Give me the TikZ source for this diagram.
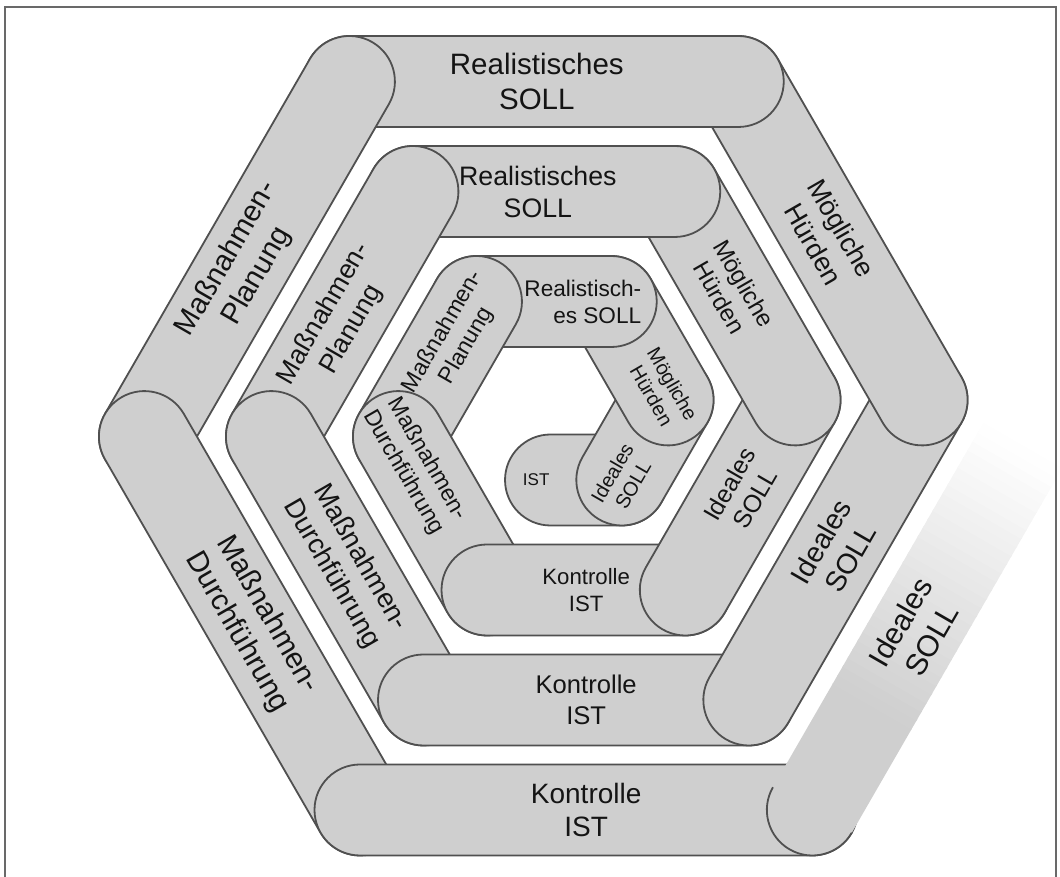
\documentclass[tikz,border=0pt]{standalone}
\usepackage{fontspec}
\setmainfont{Liberation Sans}
\usetikzlibrary{calc}
\definecolor{capfill}{RGB}{207,207,207}
\definecolor{capline}{RGB}{80,80,80}
\definecolor{framecol}{RGB}{105,105,105}
\definecolor{txtcol}{RGB}{20,20,20}
\begin{document}
\begin{tikzpicture}[x=1pt,y=1pt,
  capsule/.style={fill=capfill, draw=capline, line width=1.8pt},
  lbl/.style={text=txtcol, inner sep=0pt}]
\useasboundingbox (0,0) rectangle (1060,877);
\clip (0,0) rectangle (1060,877);
\coordinate (O) at (565,458.75);
\def\rr{45.5}
\def\dd{18.3333}
% spiral of capsules, drawn from the innermost outwards
\foreach \i/\nm/\txt/\fs/\off/\rot/\al in {
  18/ist3/{IST}/17/50/0/center,
  17/ideal3/{Ideales\\SOLL}/20/45/60/center,
  16/huerden3/{Mögliche\\Hürden}/20/45/-60/center,
  15/real3/{Realistisch-\\es SOLL}/22.6/39/0/right,
  14/plan3/{Maßnahmen-\\Planung}/23/35/60/center,
  13/durch3/{Maßnahmen-\\Durchführung}/23/55/-60/center,
  12/kontr3/{Kontrolle\\IST}/22.2/0/0/center,
  11/ideal2/{Ideales\\SOLL}/24.7/-4/60/center,
  10/huerden2/{Mögliche\\Hürden}/24/-6/-60/center,
  9/real2/{Realistisches\\SOLL}/26.7/-6/0/center,
  8/plan2/{Maßnahmen-\\Planung}/26.7/-9/60/center,
  7/durch2/{Maßnahmen-\\Durchführung}/27.5/3/-60/center,
  6/kontr2/{Kontrolle\\IST}/25.6/0/0/center,
  5/ideal1/{Ideales\\SOLL}/28.4/0/60/center,
  4/huerden1/{Mögliche\\Hürden}/27/-5/-60/center,
  3/real1/{Realistisches\\SOLL}/29.5/-7/0/center,
  2/plan1/{Maßnahmen-\\Planung}/29.2/-10/60/center,
  1/durch1/{Maßnahmen-\\Durchführung}/29.6/0/-60/center,
  0/kontr1/{Kontrolle\\IST}/28/0/0/center}{
  \pgfmathsetmacro\cP{391.75-\dd*\i}
  \pgfmathsetmacro\cTh{-90-60*\i}
  \pgfmathsetmacro\cPh{\cTh-90}
  \pgfmathsetmacro\cPhb{\cTh+90}
  \pgfmathsetmacro\cS{(0.5*\cP+\dd)/0.866025}
  \pgfmathsetmacro\cL{\cP/0.866025}
  \pgfmathsetmacro\cM{-\dd/0.866025+\off}
  \pgfmathsetmacro\cFs{1.2*\fs}
  \coordinate (A\i) at ($(O)+(\cTh:\cP)+(\cPhb:\cS)$);
  \begin{scope}[shift={(A\i)}, rotate=\cPh]
    \path[capsule] (0,-\rr) -- (\cL,-\rr) arc[start angle=-90,end angle=90,radius=\rr]
      -- (0,\rr) arc[start angle=90,end angle=270,radius=\rr] -- cycle;
  \end{scope}
  \node[lbl, align=\al, rotate=\rot, font=\fontsize{\fs}{\cFs}\selectfont]
    (\nm) at ($(O)+(\cTh:\cP)+(\cPh:\cM)$) {\txt};
}
% outermost, fading capsule
\pgfmathsetmacro\fP{391.75+\dd}
\pgfmathsetmacro\fS{(0.5*\fP+\dd)/0.866025}
\pgfmathsetmacro\fL{\fP/0.866025}
\pgfmathsetmacro\fM{-\dd/0.866025+30}
\coordinate (Af) at ($(O)+(-30:\fP)+(60:\fS)$);
\begin{scope}[shift={(Af)}, rotate=-120]
  \clip (0,-\rr) -- (\fL,-\rr) arc[start angle=-90,end angle=90,radius=\rr]
    -- (0,\rr) arc[start angle=90,end angle=270,radius=\rr] -- cycle;
  \fill[capfill] (\fL-120,-50) rectangle (\fL+50,50);
  \foreach \k in {0,...,29}{
    \pgfmathsetmacro\pc{100*(1-(\k+0.5)/30)}
    \fill[capfill!\pc!white] (\fL-131-10*\k,-50) rectangle (\fL-119-10*\k,50);
  }
\end{scope}
\begin{scope}[shift={(Af)}, rotate=-120]
  \draw[capline, line width=1.8pt] (\fL,-\rr) arc[start angle=-90,end angle=90,radius=\rr];
\end{scope}
\node[lbl, align=center, rotate=60, font=\fontsize{30}{36}\selectfont]
  (ideal0) at ($(O)+(-30:\fP)+(-120:\fM)$) {Ideales\\SOLL};
% frame
\draw[framecol, line width=2pt] (5,-3) -- (5,870) -- (1056,870) -- (1056,-3);
\end{tikzpicture}
\end{document}
